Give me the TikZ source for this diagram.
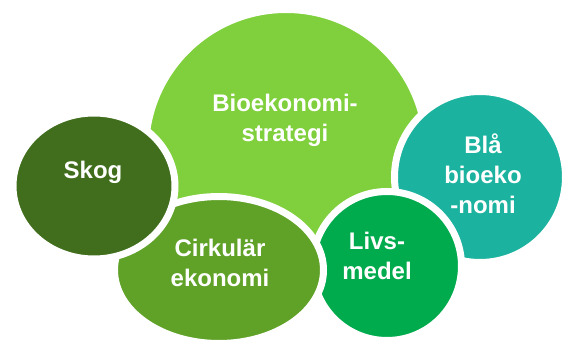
\documentclass[tikz,border=0pt]{standalone}
\usepackage{fontspec}
\setmainfont{Liberation Sans}
\usetikzlibrary{shapes, shadows, positioning}
\definecolor{strategygreen}{RGB}{127,208,60}
\definecolor{forestgreen}{RGB}{64,110,28}
\definecolor{circulargreen}{RGB}{95,162,39}
\definecolor{foodgreen}{RGB}{0,171,78}
\definecolor{bluegreen}{RGB}{27,179,159}

\begin{document}
\begin{tikzpicture}[x=1pt, y=-1pt,
    bubble/.style={circle, draw=white, line width=7pt, inner sep=0pt,
        drop shadow={shadow xshift=1.5pt, shadow yshift=-2.5pt, opacity=0.22}},
    txt/.style={text=white, font=\fontsize{24}{30}\selectfont\bfseries, align=center}]
    \useasboundingbox (0,0) rectangle (573,344);

    \node[bubble, fill=strategygreen, minimum size=281pt] (strategy) at (286,150) {};
    \node[bubble, fill=bluegreen, minimum size=171pt] (blue) at (480,177) {};
    \node[bubble, fill=foodgreen, minimum size=149pt] (food) at (387,266) {};
    \node[bubble, ellipse, fill=circulargreen, minimum width=209pt, minimum height=147pt] (circular) at (219,270) {};
    \node[bubble, ellipse, fill=forestgreen, minimum width=162pt, minimum height=146pt] (forest) at (94,186) {};

    \node[txt] (strategy-txt) at (285,120) {Bioekonomi-\\strategi};
    \node[txt] (blue-txt) at (483,174) {Blå\\bioeko\\-nomi};
    \node[txt] (food-txt) at (377,256) {Livs-\\medel};
    \node[txt] (circular-txt) at (220,263) {Cirkulär\\ekonomi};
    \node[txt] (forest-txt) at (93,172) {Skog};

\end{tikzpicture}
\end{document}
